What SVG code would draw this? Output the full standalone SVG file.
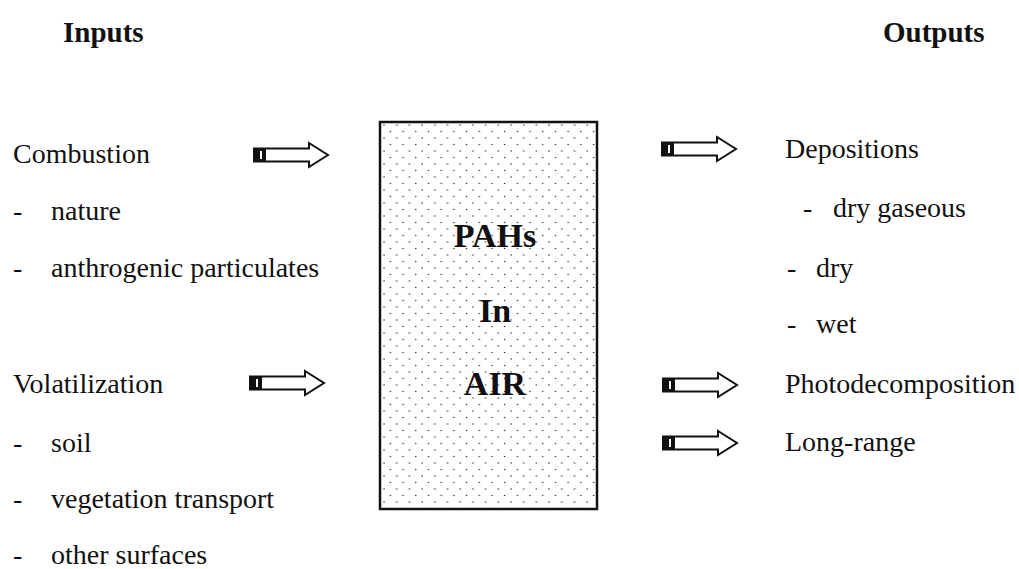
<svg xmlns="http://www.w3.org/2000/svg" width="1019" height="569" viewBox="0 0 1019 569">
<style>
text{font-family:"Liberation Serif","Times New Roman",serif;fill:#111}
.t{font-size:28px}
.h{font-size:29px;font-weight:bold}
.c{font-size:34px;font-weight:bold;text-anchor:middle}
.ar{fill:#fff;stroke:#111;stroke-width:2;stroke-linejoin:miter}
</style>
<defs>
<pattern id="dots" width="12.7" height="13" patternUnits="userSpaceOnUse" x="380" y="122">
<circle cx="4" cy="3" r="0.8" fill="#333"/>
<circle cx="10.35" cy="9.5" r="0.8" fill="#333"/>
</pattern>
<g id="arrow">
<polygon class="ar" points="0,-6.5 55,-6.5 55,-12 74,0 55,12 55,6.5 0,6.5"/>
<rect x="0" y="-6.5" width="12" height="13" fill="#111"/>
<rect x="6" y="-4" width="2" height="8" fill="#fff"/>
</g>
</defs>
<rect width="1019" height="569" fill="#fff"/>
<g id="headers">
<text class="h" x="63" y="42">Inputs</text>
<text class="h" x="883" y="42">Outputs</text>
</g>
<g id="node-air">
<rect x="380" y="122" width="217" height="387" fill="url(#dots)" stroke="#111" stroke-width="2.5"/>
<text class="c" x="495" y="247">PAHs</text>
<text class="c" x="495" y="322">In</text>
<text class="c" x="495" y="395">AIR</text>
</g>
<g id="node-inputs">
<text class="t" x="13" y="163">Combustion</text>
<text class="t" x="13" y="220">-</text><text class="t" x="51" y="220">nature</text>
<text class="t" x="13" y="277">-</text><text class="t" x="51" y="277">anthrogenic particulates</text>
<text class="t" x="13" y="393">Volatilization</text>
<text class="t" x="13" y="452">-</text><text class="t" x="51" y="452">soil</text>
<text class="t" x="13" y="508">-</text><text class="t" x="51" y="508">vegetation transport</text>
<text class="t" x="13" y="564">-</text><text class="t" x="51" y="564">other surfaces</text>
</g>
<g id="node-outputs">
<text class="t" x="785" y="158">Depositions</text>
<text class="t" x="803" y="217">-</text><text class="t" x="833" y="217">dry gaseous</text>
<text class="t" x="787" y="277">-</text><text class="t" x="816" y="277">dry</text>
<text class="t" x="787" y="333">-</text><text class="t" x="816" y="333">wet</text>
<text class="t" x="785" y="393">Photodecomposition</text>
<text class="t" x="785" y="451">Long-range</text>
</g>
<g id="connectors">
<use href="#arrow" x="254" y="155"/>
<use href="#arrow" x="250" y="383"/>
<use href="#arrow" x="662" y="149"/>
<use href="#arrow" x="663" y="385"/>
<use href="#arrow" x="663" y="443"/>
</g>
</svg>
